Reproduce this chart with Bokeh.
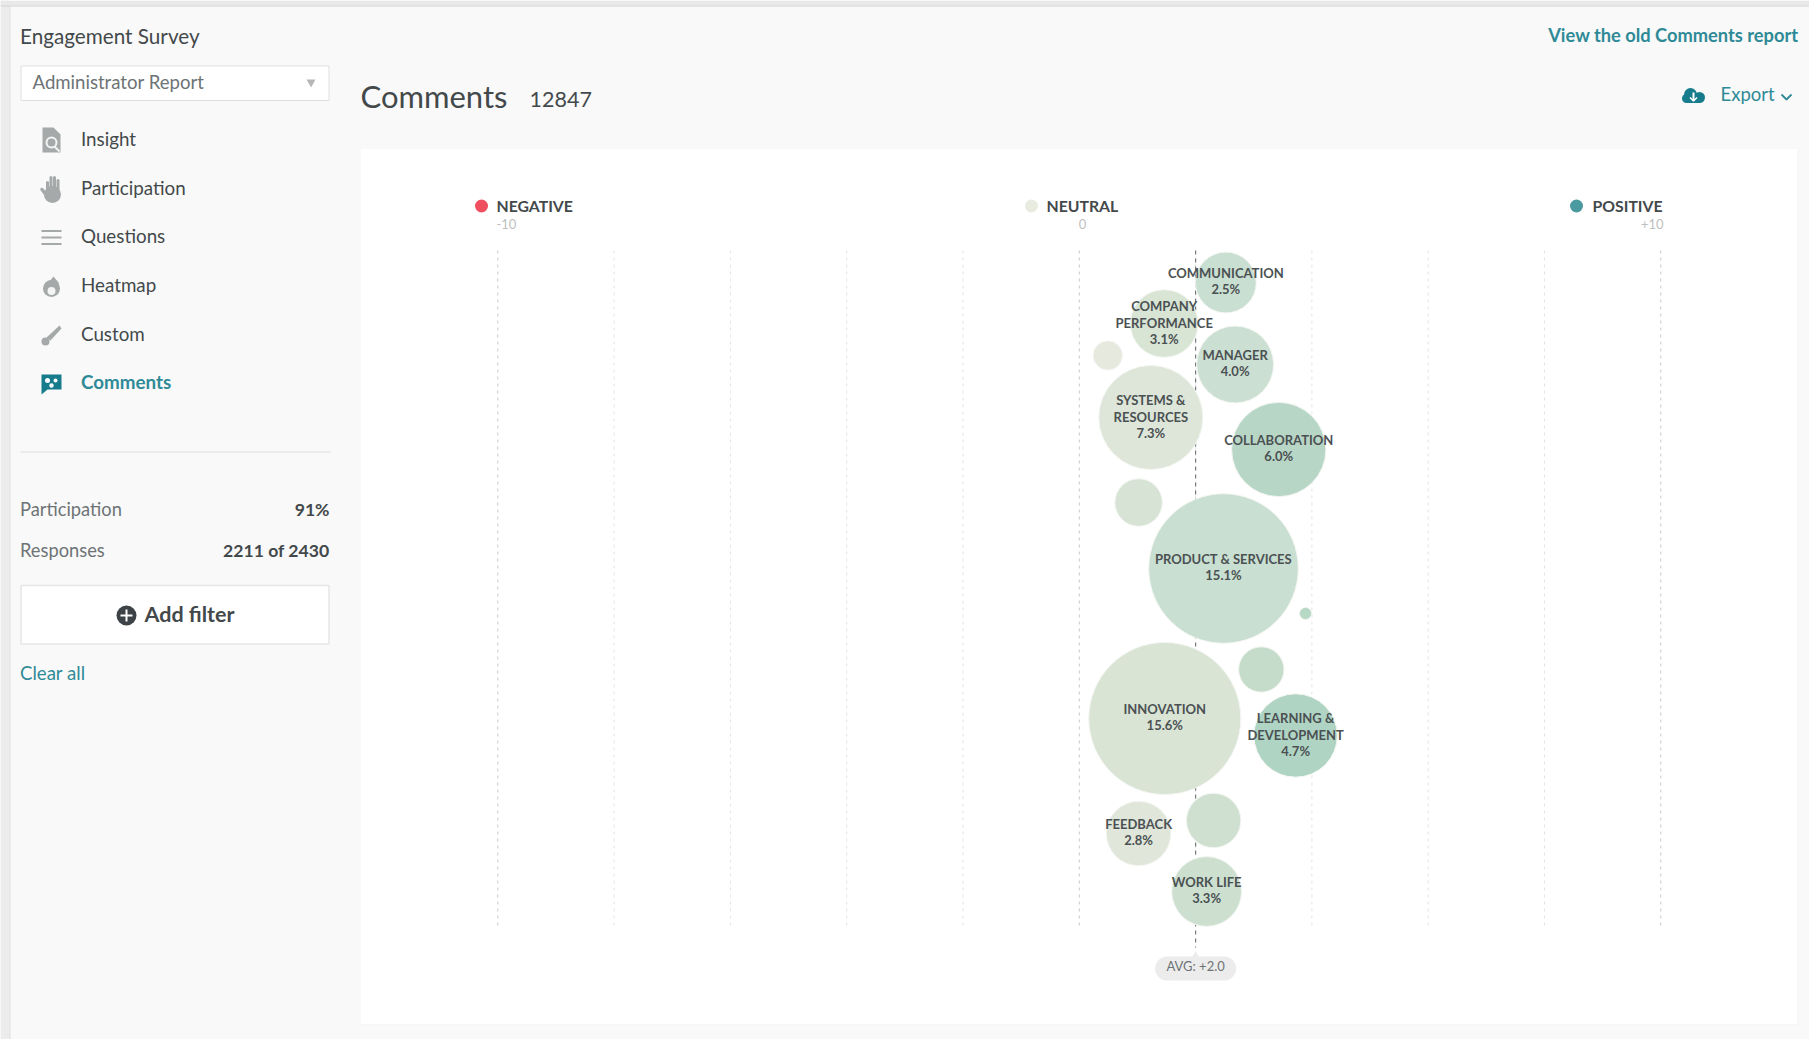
from math import sqrt

from bokeh.core.properties import value
from bokeh.embed import file_html
from bokeh.models import ColumnDataSource, Range1d
from bokeh.plotting import figure
from bokeh.resources import INLINE

# Comment topics: sentiment score, vertical slot in the swarm, share of comments
topic_names = ["COMMUNICATION", "COMPANY\nPERFORMANCE", "MANAGER", "", "SYSTEMS &\nRESOURCES",
               "COLLABORATION", "", "PRODUCT & SERVICES", "", "", "INNOVATION",
               "LEARNING &\nDEVELOPMENT", "FEEDBACK", "", "WORK LIFE"]
topic_sentiment = [2.52, 1.46, 2.68, 0.49, 1.23, 3.43, 1.02, 2.48, 3.89, 3.13, 1.47, 3.72, 1.02, 2.31, 2.19]
topic_slot = [32, 73, 114, 105, 167, 199, 252, 318, 363, 419, 468, 485, 583, 570, 641]
topic_share = [2.5, 3.1, 4.0, 0.58, 7.3, 6.0, 1.52, 15.1, 0.1, 1.39, 15.6, 4.7, 2.8, 2.0, 3.3]
topic_colors = ["#c9dfd1", "#d8e4d4", "#cbdfd2", "#e6e9dd", "#dde6d9", "#b8d6c6", "#d7e3d4", "#c9dfd1",
                "#b8d8c6", "#c4dcc9", "#d9e4d5", "#b0d4c3", "#e0e6da", "#cfe0d1", "#cde0d0"]
grid_ticks = [-10, -8, -6, -4, -2, 0, 2, 4, 6, 8, 10]
strong_ticks = [-10, 0, 10]
average_score = 2.0

nav_items = ["Insight", "Participation", "Questions", "Heatmap", "Custom", "Comments"]

W, H = 1809, 1039
ZERO_PX, UNIT_PX = 1078.8, 58.15
SWARM_TOP = 250
BUBBLE_SCALE = 19.24  # pixels of radius per square root of a percent
SWARM_BOTTOM = 675
AVG_BOTTOM = 697
BASELINE_LIFT = 0.4  # the SVG text sits this many ems under the requested baseline

TEAL = "#2f8a97"
INK = "#43494b"
MUTED = "#6d7375"
ICON = "#a6a9a9"
LATO = value("Lato")

p = figure(width=W, height=H, output_backend="svg", toolbar_location=None,
           x_range=Range1d(-ZERO_PX / UNIT_PX, (W - ZERO_PX) / UNIT_PX),
           y_range=Range1d(H - SWARM_TOP, -SWARM_TOP),
           min_border=0, outline_line_color=None, background_fill_color="#f9f9f9",
           border_fill_color="#f9f9f9", x_axis_type=None, y_axis_type=None)
p.grid.visible = False

# The surrounding report page is laid out in pixels on its own pair of ranges
p.extra_x_ranges["page"] = Range1d(0, W)
p.extra_y_ranges["page"] = Range1d(H, 0)
PG = dict(x_range_name="page", y_range_name="page")


def box(x0, x1, y0, y1, fill, line=None, width=1):
    p.quad(left=[x0], right=[x1], top=[y0], bottom=[y1], fill_color=fill,
           line_color=line, line_width=width, **PG)


def label(x, y, text, size, color=INK, align="left", weight="normal", font=LATO):
    p.text(x=[x], y=[y - BASELINE_LIFT * size], text=[text], text_font=font, text_font_size=f"{size}px",
           text_color=color, text_align=align, text_baseline="alphabetic", text_font_style=weight, **PG)


def dot(x, y, r, fill, line=None, width=1):
    p.scatter(x=[x], y=[y], size=2 * r, fill_color=fill, line_color=line, line_width=width, **PG)


def stroke(xs, ys, color, width, cap="butt"):
    p.line(x=xs, y=ys, line_color=color, line_width=width, line_cap=cap, **PG)


def shape(xs, ys, fill):
    p.patch(x=xs, y=ys, fill_color=fill, line_color=None, **PG)


# Window edges
box(0, 9, 0, H, "#ececec")
box(0, W, 0, 5, "#e9e9e9")
stroke([0, W], [5.5, 5.5], "#d2d2d2", 1)
stroke([9.5, 9.5], [5, H], "#dedede", 1)

# Sidebar
label(19.5, 43.5, "Engagement Survey", 20.7)
box(20.5, 328.5, 65.5, 100, "#ffffff", "#dfdfdf", 1)
label(32, 89, "Administrator Report", 18.6, MUTED)
shape([306, 315, 310.5], [79, 79, 87], "#b5b7b7")

for i, item in enumerate(nav_items):
    active = item == "Comments"
    label(80.5, 145.5 + i * 48.7, item, 18.8, TEAL if active else INK, weight="bold" if active else "normal")

# Insight icon
shape([42, 53, 60, 60, 42], [127, 127, 134, 152, 152], ICON)
dot(51, 142, 5, None, "#f4f4f4", 2)
stroke([54, 59], [146, 151], "#f4f4f4", 2)
# Participation icon
for fx, top in [(47, 182), (50.5, 177), (54, 177), (57.5, 180)]:
    stroke([fx, fx], [top, 192], ICON, 3, "round")
dot(52, 194, 8.5, ICON)
stroke([41.5, 47], [189, 196], ICON, 3.5, "round")
# Questions icon
for ly in [230.5, 237, 243.5]:
    stroke([41, 61], [ly, ly], ICON, 2)
# Heatmap icon
dot(51, 288, 8.5, ICON)
shape([44, 53, 58, 59, 45], [287, 276, 282, 288, 288], ICON)
dot(51, 290.5, 4, "#f4f4f4")
# Custom icon
shape([59, 61, 50, 46], [325, 328, 340, 337], ICON)
dot(45, 341, 4, ICON)
# Comments icon
shape([41, 61, 61, 47, 41], [374, 374, 389, 389, 394], "#167c8c")
for cx, cy, r in [(47, 380, 2.5), (55, 380, 2), (51, 385, 2.2)]:
    dot(cx, cy, r, "#ffffff")

stroke([20, 330], [451.5, 451.5], "#e6e6e6", 1.5)
label(19.5, 516, "Participation", 18.3, MUTED)
label(329, 516, "91%", 17.6, INK, "right", "bold")
label(19.5, 557, "Responses", 18.3, MUTED)
label(329, 557, "2211 of 2430", 17.6, INK, "right", "bold")
box(20.5, 328.5, 585, 643.5, "#ffffff", "#e6e6e6", 1.5)
dot(126, 615, 10, "#3c4245")
stroke([120, 132], [615, 615], "#ffffff", 2)
stroke([126, 126], [609, 621], "#ffffff", 2)
label(144, 622, "Add filter", 21.5, INK, weight="bold")
label(19.5, 680, "Clear all", 18.6, TEAL)

# Report header
label(1798, 42, "View the old Comments report", 18.3, TEAL, "right", "bold")
label(360, 108, "Comments", 31, INK)
label(529, 108, "12847", 21.5, INK)
dot(1690, 94, 6.5, "#167c8c")
dot(1699, 97, 5.5, "#167c8c")
dot(1686, 98, 4.5, "#167c8c")
box(1686, 1699, 96, 102.5, "#167c8c")
stroke([1693, 1693], [92, 100], "#ffffff", 2)
stroke([1689.5, 1693, 1696.5], [97, 100.5, 97], "#ffffff", 1.5)
label(1720, 101, "Export", 18.5, TEAL)
stroke([1781, 1786, 1791], [94, 99, 94], TEAL, 1.8)

# Chart card
box(360, 1798, 149, 1025, "#f1f1f1")
box(360, 1797, 148.5, 1024, "#ffffff")

# Legend across the top of the chart
dot(481, 205.5, 6.5, "#ef4f5f")
label(496, 211, "NEGATIVE", 15.8, weight="bold")
label(496, 229, "-10", 13, "#bdbfbf")
dot(1031, 205.5, 6.5, "#e8ebe0")
label(1046, 211, "NEUTRAL", 15.8, weight="bold")
label(1082, 229, "0", 13, "#bdbfbf", "center")
dot(1576, 205.5, 6.5, "#4b9a9f")
label(1592, 211, "POSITIVE", 15.8, weight="bold")
label(1663, 229, "+10", 13, "#bdbfbf", "right")

# Sentiment grid and the average marker
for tick in grid_ticks:
    p.line(x=[tick, tick], y=[0, SWARM_BOTTOM], line_dash="3 4", line_width=1,
           line_color="#c6c8c8" if tick in strong_ticks else "#e2e3e3")
p.line(x=[average_score, average_score], y=[0, AVG_BOTTOM], line_dash="4 4", line_width=1.2, line_color="#74797b")

bubbles = ColumnDataSource(dict(
    x=topic_sentiment, y=topic_slot,
    size=[2 * BUBBLE_SCALE * sqrt(s) for s in topic_share], color=topic_colors))
p.scatter("x", "y", size="size", source=bubbles, fill_color="color", line_color="#f3f6f2", line_width=1)

# Captions centred on their bubbles
for name, sx, slot, share in zip(topic_names, topic_sentiment, topic_slot, topic_share):
    if not name:
        continue
    lines = name.split("\n")
    first = -4.6 if len(lines) == 1 else -12
    for j, line in enumerate(lines + [f"{share}%"]):
        p.text(x=[sx], y=[slot + first + j * 16.3 - BASELINE_LIFT * 13], text=[line], text_font=LATO,
               text_font_size="13px", text_color="#4b5153", text_align="center",
               text_baseline="alphabetic", text_font_style="bold")

# Average pill below the grid
p.quad(left=[average_score - 0.49], right=[average_score + 0.49], top=[706], bottom=[730],
       fill_color="#ececec", line_color=None)
p.scatter(x=[average_score - 0.49, average_score + 0.49], y=[718, 718], size=24,
          fill_color="#ececec", line_color=None)
p.scatter(x=[average_score], y=[704.5], size=7, marker="triangle", fill_color="#ececec", line_color=None)
p.text(x=[average_score], y=[721 - BASELINE_LIFT * 13], text=[f"AVG: +{average_score}"], text_font=LATO,
       text_font_size="13px", text_color="#6d7375", text_align="center", text_baseline="alphabetic")

open("out.html", "w").write(file_html(p, INLINE))
